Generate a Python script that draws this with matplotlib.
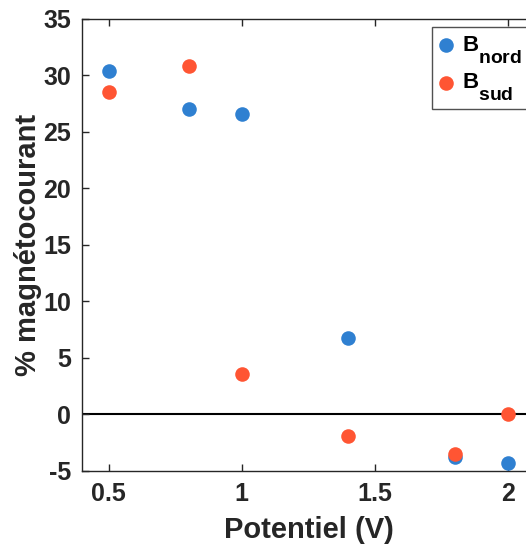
import matplotlib
matplotlib.use("Agg")
import matplotlib.pyplot as plt
import matplotlib._mathtext as _mt

# MATLAB-style large, deeply dropped subscripts in the legend
_mt.SHRINK_FACTOR = 0.87
_mt.FontConstantsBase.sub1 = 1.0

potentiel = [0.5, 0.8, 1.0, 1.4, 1.8, 2.0]
b_nord = [30.4, 27.0, 26.6, 6.8, -3.8, -4.3]
b_sud = [28.5, 30.8, 3.6, -1.9, -3.5, 0.0]
xticks = [0.5, 1, 1.5, 2]
xtick_labels = ["0.5", "1", "1.5", "2"]
yticks = [-5, 0, 5, 10, 15, 20, 25, 30, 35]

plt.rcParams['font.family'] = ['Liberation Sans', 'DejaVu Sans']
plt.rcParams['font.weight'] = 'bold'
plt.rcParams['axes.unicode_minus'] = False
plt.rcParams['mathtext.fontset'] = 'custom'
plt.rcParams['mathtext.rm'] = 'Liberation Sans:bold'
plt.rcParams['mathtext.bf'] = 'Liberation Sans:bold'
plt.rcParams['mathtext.it'] = 'Liberation Sans:bold'

dark = '#262626'
blue = '#2F80D1'
red = '#FF5533'

fig = plt.figure(figsize=(5.26, 5.45), dpi=100)
ax = fig.add_axes([0.1559, 0.1358, 0.861, 0.8294])

ax.axhline(0, color='black', lw=1.5, zorder=1)
ax.scatter(potentiel, b_nord, s=110, color=blue, label=r'$\mathrm{B}_{\mathrm{nord}}$', zorder=3, linewidths=0)
ax.scatter(potentiel, b_sud, s=110, color=red, label=r'$\mathrm{B}_{\mathrm{sud}}$', zorder=3, linewidths=0)

ax.set_xlim(0.4, 2.1)
ax.set_ylim(-5, 35)
ax.set_xticks(xticks)
ax.set_xticklabels(xtick_labels)
ax.set_yticks(yticks)
ax.tick_params(direction='in', length=5, width=1, colors=dark, labelsize=18, top=True, right=False, pad=8)
for lab in ax.get_xticklabels() + ax.get_yticklabels():
    lab.set_fontweight('bold')
for s in ['left', 'bottom', 'top']:
    ax.spines[s].set_color(dark)
    ax.spines[s].set_linewidth(1)
ax.spines['right'].set_visible(False)

ax.set_xlabel('Potentiel (V)', fontsize=21, fontweight='bold', color=dark, labelpad=7)
ax.set_ylabel('% magnétocourant', fontsize=21, fontweight='bold', color=dark, labelpad=1)

leg = ax.legend(loc='upper left', bbox_to_anchor=(0.773, 0.982), borderaxespad=0,
                fontsize=16, frameon=True, fancybox=False, handletextpad=0.4,
                handlelength=0.63, labelspacing=0.3, borderpad=0.3, markerscale=1.0)
leg.get_frame().set_edgecolor(dark)
leg.get_frame().set_linewidth(1)
for t in leg.get_texts():
    t.set_color('black')

fig.savefig('out.png', dpi=100)
